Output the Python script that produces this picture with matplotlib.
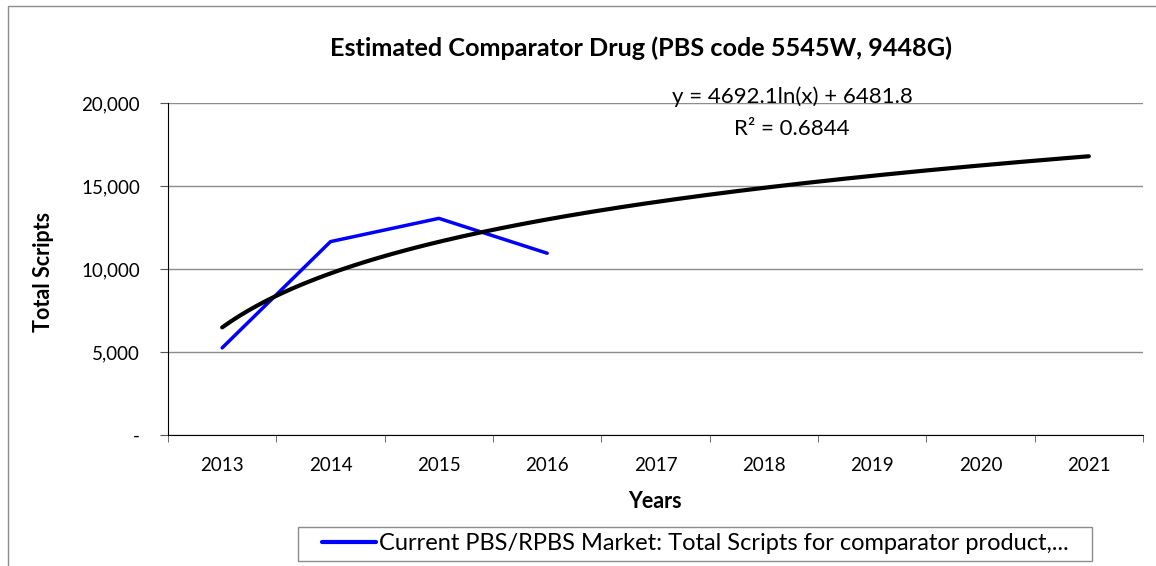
import numpy as np
import matplotlib
matplotlib.use('Agg')
from matplotlib import pyplot as plt
from matplotlib.patches import Rectangle

# --- data ---
years = ['2013', '2014', '2015', '2016', '2017', '2018', '2019', '2020', '2021']
scripts = [5250, 11650, 13050, 10950]
# log trendline shown on the chart: y = a*ln(x) + b
trend_a = 4692.1
trend_b = 6481.8
trend_r2 = 0.6844
y_ticks = [0, 5000, 10000, 15000, 20000]
y_labels = ['-', '5,000', '10,000', '15,000', '20,000']

plt.rcParams['font.family'] = ['Lato', 'DejaVu Sans']

fig = plt.figure(figsize=(11.56, 5.66), dpi=100)
W, H = 1156, 566
ax = fig.add_axes([168 / W, 1 - 435 / H, (1143 - 168) / W, (435 - 103) / H])

x = np.arange(1, len(scripts) + 1)
ax.plot(x, scripts, color='#0000ff', lw=2.5, solid_capstyle='round', zorder=3,
        label='Current PBS/RPBS Market: Total Scripts for comparator product,...')

xt = np.linspace(1, len(years), 200)
ax.plot(xt, trend_a * np.log(xt) + trend_b, color='black', lw=3.0,
        solid_capstyle='round', zorder=4)

ax.set_xlim(0.5, len(years) + 0.5)
ax.set_ylim(0, 20000)
ax.set_yticks(y_ticks)
ax.set_yticklabels(y_labels, fontsize=13.5)
ax.set_xticks(np.arange(1, len(years) + 1))
ax.set_xticklabels(years, fontsize=13.5)
ax.set_xticks(np.arange(0.5, len(years) + 1), minor=True)
ax.tick_params(axis='x', which='major', length=0, pad=16)
ax.tick_params(axis='x', which='minor', length=5, color='#555555')
ax.tick_params(axis='y', length=6, color='#555555', pad=14)
ax.grid(axis='y', color='#8c8c8c', lw=1.0)
ax.set_axisbelow(True)
for s in ['top', 'right']:
    ax.spines[s].set_visible(False)
ax.spines['left'].set_color('black')
ax.spines['bottom'].set_color('black')

# axis titles placed in pixel positions of the reference
fig.text(43 / W, 1 - 272 / H, 'Total Scripts', fontsize=15.5, fontweight='bold',
         rotation=90, ha='center', va='center')
fig.text(655 / W, 1 - 502 / H, 'Years', fontsize=15.5, fontweight='bold',
         ha='center', va='center')

fig.text(641 / W, 1 - 48 / H, 'Estimated Comparator Drug (PBS code 5545W, 9448G)',
         fontsize=18.2, fontweight='bold', ha='center', va='center')

fig.text(792 / W, 1 - 97 / H, 'y = %.1fln(x) + %.1f' % (trend_a, trend_b),
         fontsize=16, ha='center', va='center')
fig.text(792 / W, 1 - 129 / H, 'R² = %.4f' % trend_r2,
         fontsize=16, ha='center', va='center')

# legend without frame, frame drawn separately so the left padding matches
leg = fig.legend(loc='center left', bbox_to_anchor=(322 / W, 1 - 544 / H), fontsize=17,
                 frameon=False, handlelength=2.3, handletextpad=0.1,
                 borderpad=0, borderaxespad=0)
for h in leg.get_lines():
    h.set_linewidth(3.0)
fig.patches.append(Rectangle((298 / W, 1 - 561 / H), (1092 - 298) / W, 34 / H,
                             transform=fig.transFigure, fill=False,
                             edgecolor='#8c8c8c', lw=1.0))

# outer chart border (cut off at right and bottom)
fig.patches.append(Rectangle((8 / W, -0.1), 1.2, 1 - 6 / H + 0.1,
                             transform=fig.transFigure, fill=False,
                             edgecolor='#8c8c8c', lw=1.0))

fig.savefig('out.png', dpi=100)
